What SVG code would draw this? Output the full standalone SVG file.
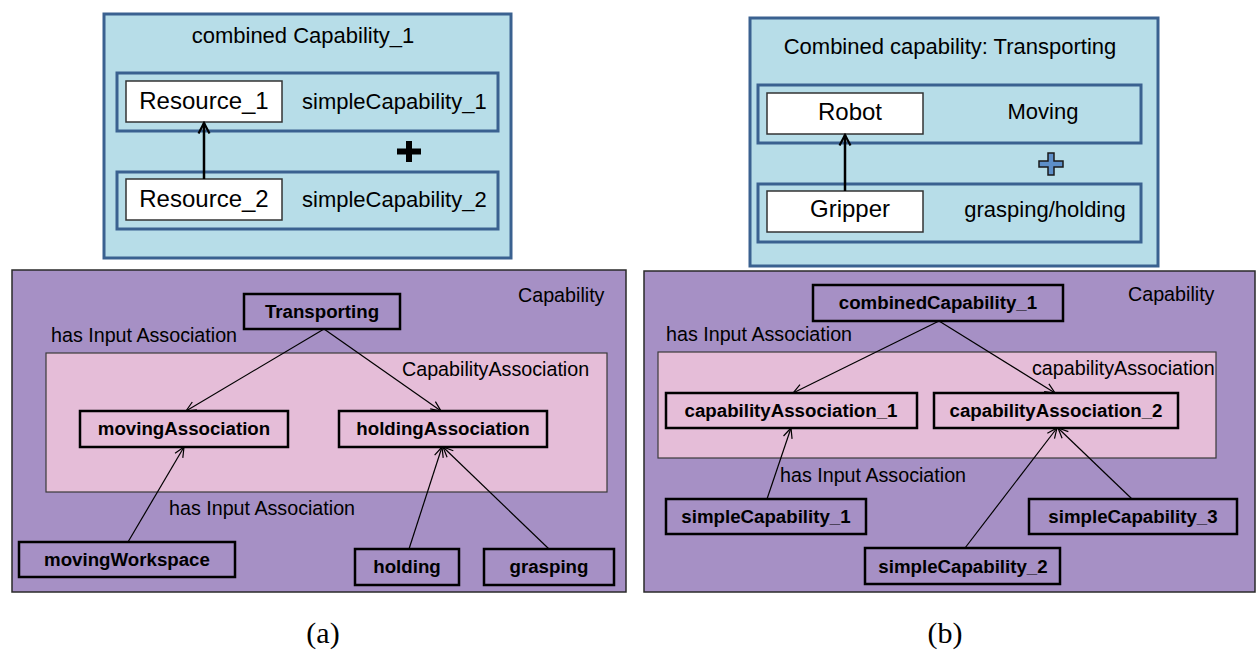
<svg xmlns="http://www.w3.org/2000/svg" width="1256" height="651" viewBox="0 0 1256 651">
<style>
.outer{fill:#b7dde8;stroke:#3a6190;stroke-width:3}
.row{fill:#b7dde8;stroke:#3a6190;stroke-width:3}
.res{fill:#fff;stroke:#333;stroke-width:1.5}
.cap{fill:#a690c5;stroke:#2a2a2a;stroke-width:1.5}
.assoc{fill:#e5bdd8;stroke:#3a3a3a;stroke-width:1.2}
.nb{fill:none;stroke:#000;stroke-width:2.5}
.t{font-family:"Liberation Sans",Arial,sans-serif;fill:#000}
.tb{font-family:"Liberation Sans",Arial,sans-serif;font-weight:bold;font-size:18.7px;fill:#000;text-anchor:middle}
.lbl{font-size:19.7px}
.big{font-size:22px}
.res-t{font-size:24px;text-anchor:middle}
.c{text-anchor:middle}
.cap-t{font-family:"Liberation Serif","Times New Roman",serif;font-size:30px;text-anchor:middle;fill:#000}
.ln{fill:none;stroke:#000;stroke-width:1.2}
.lnb{fill:none;stroke:#000;stroke-width:2.5}
</style>
<defs>
<marker id="arr" viewBox="0 0 12 12" refX="11" refY="6" markerWidth="12" markerHeight="12" orient="auto" markerUnits="userSpaceOnUse">
<path d="M1,1.5 L11,6 L1,10.5" fill="none" stroke="#000" stroke-width="1.2"/>
</marker>
<marker id="arrb" viewBox="0 0 14 14" refX="12" refY="7" markerWidth="14" markerHeight="14" orient="auto" markerUnits="userSpaceOnUse">
<path d="M1.5,1.5 L12,7 L1.5,12.5" fill="none" stroke="#000" stroke-width="2.2"/>
</marker>
</defs>
<rect width="1256" height="651" fill="#fff"/>

<!-- (a) top -->
<g id="combinedA">
<rect class="outer" x="104" y="14" width="407" height="244"/>
<text class="t big c" x="303" y="43">combined Capability_1</text>
</g>
<g id="rowA1">
<rect class="row" x="117" y="73" width="381" height="58"/>
<text class="t big" x="302" y="109">simpleCapability_1</text>
</g>
<g id="resource1">
<rect class="res" x="126" y="81" width="156" height="41"/>
<text class="t res-t" x="204" y="109">Resource_1</text>
</g>
<g id="rowA2">
<rect class="row" x="117" y="172" width="381" height="57"/>
<text class="t big" x="302" y="207">simpleCapability_2</text>
</g>
<g id="resource2">
<rect class="res" x="126" y="179" width="156" height="41"/>
<text class="t res-t" x="204" y="207">Resource_2</text>
</g>
<g id="plusA">
<path d="M397,148.5 H421 V154.5 H397 Z M406,141 H412 V162 H406 Z" fill="#000"/>
</g>

<!-- (b) top -->
<g id="combinedB">
<rect class="outer" x="750" y="18" width="408" height="248"/>
<text class="t big c" x="950" y="54">Combined capability: Transporting</text>
</g>
<g id="rowB1">
<rect class="row" x="758" y="85" width="383" height="58"/>
<text class="t big c" x="1043" y="119">Moving</text>
</g>
<g id="robot">
<rect class="res" x="767" y="93" width="156" height="41"/>
<text class="t res-t" x="850" y="120">Robot</text>
</g>
<g id="rowB2">
<rect class="row" x="758" y="184" width="383" height="58"/>
<text class="t big c" x="1045" y="217">grasping/holding</text>
</g>
<g id="gripper">
<rect class="res" x="767" y="191" width="156" height="41"/>
<text class="t res-t" x="850" y="217">Gripper</text>
</g>
<g id="plusB">
<path d="M1048,153 H1054 V161 H1063 V167 H1054 V175 H1048 V167 H1039 V161 H1048 Z" fill="#5d8fc9" stroke="#1a1a1a" stroke-width="1.5"/>
</g>

<!-- (a) bottom -->
<g id="capabilityA">
<rect class="cap" x="12" y="270" width="614" height="322"/>
<text class="t lbl" x="518" y="302">Capability</text>
<text class="t lbl" x="51" y="342">has Input Association</text>
</g>
<g id="capAssocA">
<rect class="assoc" x="46" y="353" width="561" height="139"/>
<text class="t lbl" x="402" y="376">CapabilityAssociation</text>
</g>
<g id="transporting">
<rect class="nb" x="244" y="294" width="156" height="35"/>
<text class="tb" x="322" y="318">Transporting</text>
</g>
<g id="movingAssociation">
<rect class="nb" x="80" y="411" width="208" height="36"/>
<text class="tb" x="184" y="435">movingAssociation</text>
</g>
<g id="holdingAssociation">
<rect class="nb" x="339" y="411" width="208" height="36"/>
<text class="tb" x="443" y="435">holdingAssociation</text>
</g>
<g id="labelA2">
<text class="t lbl" x="169" y="515">has Input Association</text>
</g>
<g id="movingWorkspace">
<rect class="nb" x="19" y="542" width="216" height="35"/>
<text class="tb" x="127" y="566">movingWorkspace</text>
</g>
<g id="holding">
<rect class="nb" x="355" y="549" width="104" height="36"/>
<text class="tb" x="407" y="573">holding</text>
</g>
<g id="grasping">
<rect class="nb" x="484" y="549" width="130" height="36"/>
<text class="tb" x="549" y="573">grasping</text>
</g>

<!-- (b) bottom -->
<g id="capabilityB">
<rect class="cap" x="644" y="271" width="611" height="321"/>
<text class="t lbl" x="1128" y="301">Capability</text>
<text class="t lbl" x="666" y="341">has Input Association</text>
</g>
<g id="capAssocB">
<rect class="assoc" x="658" y="352" width="558" height="106"/>
<text class="t lbl" x="1032" y="375">capabilityAssociation</text>
</g>
<g id="combinedCapability1">
<rect class="nb" x="813" y="285" width="250" height="36"/>
<text class="tb" x="938" y="309">combinedCapability_1</text>
</g>
<g id="capabilityAssociation1">
<rect class="nb" x="666" y="393" width="251" height="35"/>
<text class="tb" x="791" y="417">capabilityAssociation_1</text>
</g>
<g id="capabilityAssociation2">
<rect class="nb" x="934" y="393" width="244" height="35"/>
<text class="tb" x="1056" y="417">capabilityAssociation_2</text>
</g>
<g id="labelB2">
<text class="t lbl" x="780" y="482">has Input Association</text>
</g>
<g id="simpleCapability1">
<rect class="nb" x="666" y="499" width="200" height="35"/>
<text class="tb" x="766" y="523">simpleCapability_1</text>
</g>
<g id="simpleCapability3">
<rect class="nb" x="1029" y="499" width="208" height="35"/>
<text class="tb" x="1133" y="523">simpleCapability_3</text>
</g>
<g id="simpleCapability2">
<rect class="nb" x="865" y="548" width="195" height="36"/>
<text class="tb" x="963" y="573">simpleCapability_2</text>
</g>

<!-- connectors -->
<g id="connectors">
<line class="lnb" x1="204" y1="179" x2="204" y2="123" marker-end="url(#arrb)"/>
<line class="lnb" x1="845" y1="191" x2="845" y2="135" marker-end="url(#arrb)"/>
<line class="ln" x1="324" y1="329" x2="186" y2="411" marker-end="url(#arr)"/>
<line class="ln" x1="324" y1="329" x2="441" y2="411" marker-end="url(#arr)"/>
<line class="ln" x1="128" y1="542" x2="184" y2="447" marker-end="url(#arr)"/>
<line class="ln" x1="409" y1="549" x2="442" y2="447" marker-end="url(#arr)"/>
<line class="ln" x1="549" y1="549" x2="443" y2="447" marker-end="url(#arr)"/>
<line class="ln" x1="939" y1="321" x2="793" y2="393" marker-end="url(#arr)"/>
<line class="ln" x1="939" y1="321" x2="1055" y2="393" marker-end="url(#arr)"/>
<line class="ln" x1="767" y1="499" x2="791" y2="428" marker-end="url(#arr)"/>
<line class="ln" x1="965" y1="548" x2="1057" y2="428" marker-end="url(#arr)"/>
<line class="ln" x1="1132" y1="499" x2="1058" y2="428" marker-end="url(#arr)"/>
</g>

<g id="captions">
<text class="cap-t" x="323" y="643">(a)</text>
<text class="cap-t" x="945" y="643">(b)</text>
</g>
</svg>
